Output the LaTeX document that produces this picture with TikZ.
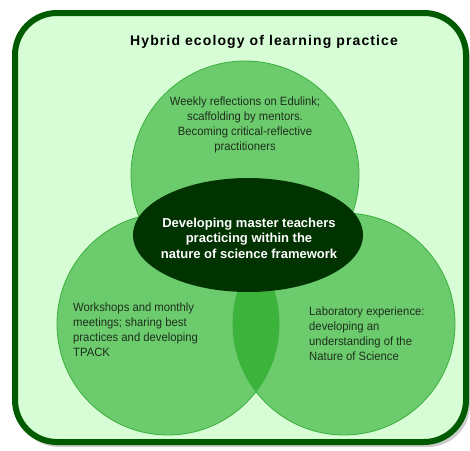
\documentclass[tikz,border=0pt]{standalone}
\usepackage{fontspec}
\setmainfont{Liberation Sans}
\newfontfamily\titlefont[LetterSpace=8]{Liberation Sans}
\newfontfamily\narrowfont[FakeStretch=0.94]{Liberation Sans}
\definecolor{boxfill}{HTML}{D6FDD6}
\definecolor{boxline}{HTML}{005A00}
\definecolor{circfill}{HTML}{6CCB6C}
\definecolor{circline}{HTML}{3CB03C}
\definecolor{lensfill}{HTML}{3CB43C}
\definecolor{ellfill}{HTML}{003300}
\definecolor{txt}{HTML}{1E301E}
\begin{document}
\begin{tikzpicture}[x=1pt,y=-1pt,
  outerbox/.style={draw=boxline,line width=6pt,fill=boxfill,rounded corners=42pt},
  circ/.style={fill=circfill},
  circborder/.style={draw=circline,line width=0.8pt},
  smalltext/.style={font=\narrowfont\fontsize{12}{15}\selectfont,text=txt},
  centertext/.style={font=\fontsize{13}{15.5}\selectfont\bfseries,text=white,align=center}]
\useasboundingbox (0,0) rectangle (470,450);
% shadow
\fill[black!20,rounded corners=42pt] (17,16) rectangle (470,447);
\draw[outerbox] (15,13) rectangle (466,442);
\node[font=\titlefont\fontsize{14}{16}\selectfont\bfseries] (title) at (264,42) {Hybrid ecology of learning practice};
% circles
\path[circ] (245,175) circle (114);
\path[circ] (168,324) circle (111);
\path[circ] (344,324) circle (111);
\begin{scope}
  \clip (168,324) circle (111);
  \fill[lensfill] (344,324) circle (111);
\end{scope}
\draw[circborder] (245,175) circle (114);
\draw[circborder] (168,324) circle (111);
\draw[circborder] (344,324) circle (111);
\node[smalltext,align=center] (top) at (245,125) {Weekly reflections on Edulink;\\scaffolding by mentors.\\Becoming critical-reflective\\practitioners};
\node[smalltext,align=left,anchor=north west,inner sep=0pt] (left) at (73,303) {Workshops and monthly\\meetings; sharing best\\practices and developing\\TPACK};
\node[smalltext,align=left,anchor=north west,inner sep=0pt] (right) at (309,307) {Laboratory experience:\\developing an\\understanding of the\\Nature of Science};
% ellipse
\fill[ellfill] (248,235) ellipse [x radius=115, y radius=57];
\node[centertext] (center) at (249,238) {Developing master teachers\\practicing within the\\nature of science framework};
\end{tikzpicture}
\end{document}
